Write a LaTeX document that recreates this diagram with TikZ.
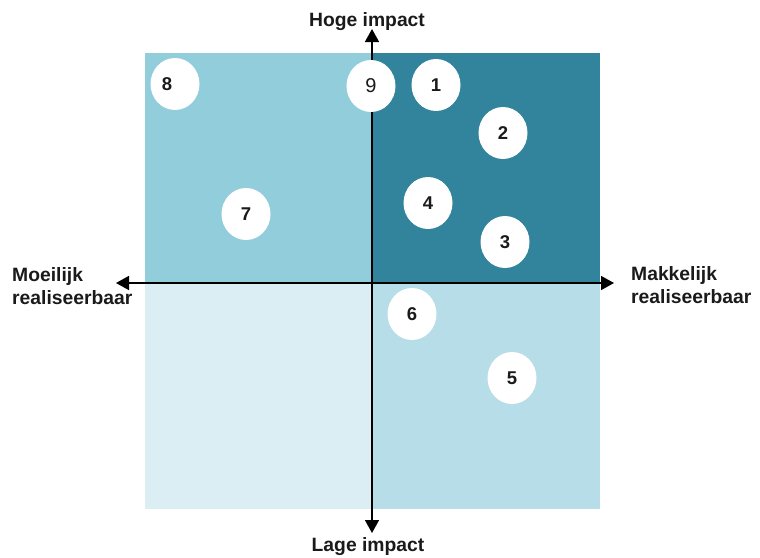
\documentclass[tikz,border=0pt]{standalone}
\usepackage{fontspec}
\setmainfont{Liberation Sans}
\usetikzlibrary{arrows.meta,shapes.geometric}
\definecolor{qTL}{HTML}{92CDDC}
\definecolor{qTR}{HTML}{31849B}
\definecolor{qBR}{HTML}{B7DDE8}
\definecolor{qBL}{HTML}{DBEEF3}
\definecolor{txt}{HTML}{1A1A1A}
\begin{document}
\begin{tikzpicture}[x=1pt,y=-1pt,
  dot/.style={ellipse,fill=white,minimum width=49pt,minimum height=52pt,inner sep=0pt,
    font=\fontsize{18.5}{20}\selectfont\bfseries,text=txt},
  num/.style={inner sep=0pt,font=\fontsize{18.5}{20}\selectfont\bfseries,text=txt},
  axislbl/.style={inner sep=0pt,font=\fontsize{19.3}{22}\selectfont\bfseries,text=txt},
  axisline/.style={line width=1.6pt,-{Triangle[length=13pt,width=14pt]}}]
\useasboundingbox (0,0) rectangle (760,557);
% quadrants
\fill[qTL] (145,53) rectangle (372,283);
\fill[qTR] (372,53) rectangle (600,283);
\fill[qBL] (145,283) rectangle (372,509);
\fill[qBR] (372,283) rectangle (600,509);
% axes
\coordinate (o) at (372,283);
\coordinate (top) at (372,29);
\coordinate (bot) at (372,533);
\coordinate (lft) at (116,283);
\coordinate (rgt) at (614,283);
\draw[axisline] (o) -- (top);
\draw[axisline] (o) -- (bot);
\draw[axisline] (o) -- (lft);
\draw[axisline] (o) -- (rgt);
% labels
\node[axislbl,anchor=base] (hoge) at (367,26) {Hoge impact};
\node[axislbl,anchor=base] (lage) at (368,551) {Lage impact};
\node[axislbl,anchor=base west] (moe1) at (12,281) {Moeilijk};
\node[axislbl,anchor=base west] (moe2) at (12,304) {realiseerbaar};
\node[axislbl,anchor=base west] (mak1) at (631,280) {Makkelijk};
\node[axislbl,anchor=base west] (mak2) at (631,303) {realiseerbaar};
% circles
\node[dot] (c8) at (175,84) {};
\node[num] (n8) at (167,84) {8};
\node[dot,font=\fontsize{20}{22}\selectfont] (c9) at (371,86) {9};
\node[dot] (c1) at (436,85) {1};
\node[dot] (c2) at (503,133) {2};
\node[dot] (c4) at (428,203) {4};
\node[dot] (c3) at (505,242) {3};
\node[dot] (c7) at (246,214) {7};
\node[dot] (c6) at (412,314) {6};
\node[dot] (c5) at (512,378) {5};
\end{tikzpicture}
\end{document}
